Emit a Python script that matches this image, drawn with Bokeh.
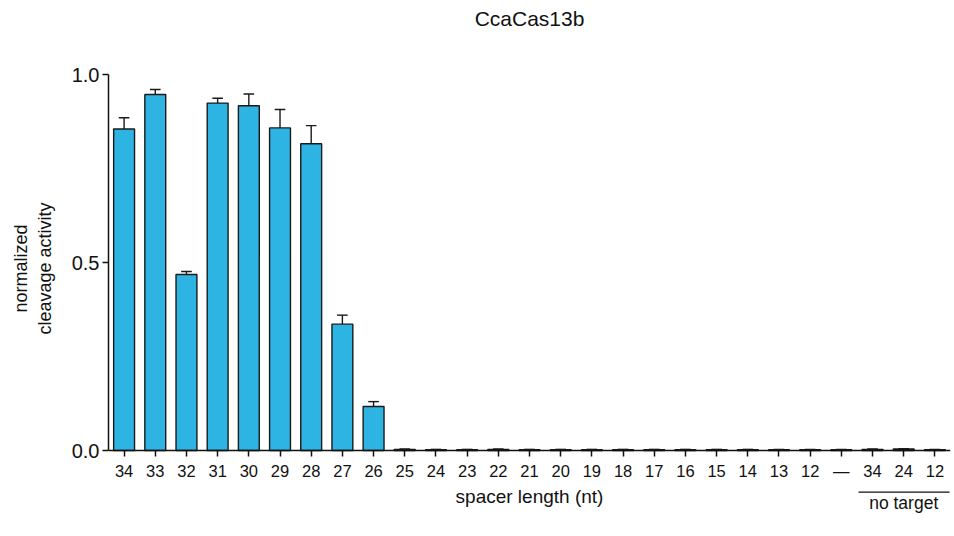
from bokeh.plotting import figure
from bokeh.models import Range1d, FixedTicker, ColumnDataSource
from bokeh.core.properties import value
from bokeh.embed import file_html
from bokeh.resources import INLINE

# spacer lengths tested (last three are non-targeting controls)
labels = ["34", "33", "32", "31", "30", "29", "28", "27", "26", "25", "24", "23",
          "22", "21", "20", "19", "18", "17", "16", "15", "14", "13", "12", "\u2014",
          "34", "24", "12"]
activity = [0.855, 0.947, 0.468, 0.924, 0.917, 0.858, 0.816, 0.336, 0.117,
            0.003, 0.002, 0.002, 0.003, 0.002, 0.002, 0.002, 0.002, 0.002,
            0.002, 0.002, 0.002, 0.002, 0.002, 0.002, 0.003, 0.004, 0.002]
sem = [0.030, 0.013, 0.008, 0.013, 0.031, 0.049, 0.048, 0.024, 0.013,
       0.001, 0.001, 0.001, 0.001, 0.001, 0.001, 0.001, 0.001, 0.001,
       0.001, 0.001, 0.001, 0.001, 0.001, 0.001, 0.001, 0.001, 0.001]
control_group = ["34", "24", "12"]
y_ticks = [0.0, 0.5, 1.0]

FONT = "Liberation Sans"
INK = "#111111"
BAR_COLOR = "#2eb4e3"

xs = list(range(len(labels)))
tops = [a + e for a, e in zip(activity, sem)]
cap = 0.17
src = ColumnDataSource(dict(x=xs, top=activity, etop=tops,
                            cl=[x - cap for x in xs], cr=[x + cap for x in xs]))

# the frame spans the full canvas height so the title, the x axis (pinned at 0)
# and the control bracket can all be placed in data space
PX_PER_UNIT = 376.0
y_top = 1.0 + 74 / PX_PER_UNIT
y_bottom = -86 / PX_PER_UNIT

p = figure(width=954, height=536, output_backend="svg", toolbar_location=None,
           x_range=Range1d(-0.5, len(labels) - 0.5),
           y_range=Range1d(y_bottom, y_top),
           min_border_left=108, min_border_right=4, min_border_top=0,
           min_border_bottom=0)
p.title = None
p.outline_line_color = None
p.xgrid.visible = False
p.ygrid.visible = False
p.background_fill_color = "white"
p.border_fill_color = "white"

# bars
p.vbar(x="x", top="top", bottom=0, width=0.67, source=src,
       fill_color=BAR_COLOR, line_color="#1a1a1a", line_width=1.4)
# upper error bars
p.segment(x0="x", y0="top", x1="x", y1="etop", source=src,
          line_color="#1a1a1a", line_width=1.4)
p.segment(x0="cl", y0="etop", x1="cr", y1="etop", source=src,
          line_color="#1a1a1a", line_width=1.4)

# x axis, pinned at y = 0
xa = p.xaxis[0]
xa.fixed_location = 0
xa.ticker = FixedTicker(ticks=xs)
xa.major_label_overrides = {i: l for i, l in enumerate(labels)}
xa.minor_tick_line_color = None
xa.major_tick_in = 0
xa.major_tick_out = 6
xa.axis_line_width = 1.5
xa.major_tick_line_width = 1.5
xa.axis_line_color = INK
xa.major_tick_line_color = INK
xa.major_label_text_font = FONT
xa.major_label_text_font_size = "16.5px"
xa.major_label_text_color = INK
xa.major_label_standoff = 5
xa.axis_label = "spacer length (nt)"
xa.axis_label_text_font = FONT
xa.axis_label_text_font_size = "19px"
xa.axis_label_text_font_style = "normal"
xa.axis_label_text_color = INK
xa.axis_label_standoff = 3

# y axis
ya = p.yaxis[0]
ya.bounds = (0, 1)
ya.ticker = FixedTicker(ticks=y_ticks)
ya.major_label_overrides = {t: f"{t:.1f}" for t in y_ticks}
ya.minor_tick_line_color = None
ya.major_tick_in = 0
ya.major_tick_out = 6
ya.axis_line_width = 1.5
ya.major_tick_line_width = 1.5
ya.axis_line_color = INK
ya.major_tick_line_color = INK
ya.major_label_text_font = FONT
ya.major_label_text_font_size = "20px"
ya.major_label_text_color = INK
ya.major_label_standoff = 3
ya.axis_label = "normalized\ncleavage activity"
ya.axis_label_text_font = FONT
ya.axis_label_text_font_size = "18px"
ya.axis_label_text_font_style = "normal"
ya.axis_label_text_color = INK
ya.axis_label_text_align = "center"
ya.axis_label_standoff = 14

# title, centred over the plotting area
x_mid = (len(labels) - 1) / 2
p.text(x=[x_mid], y=[1.0 + 56 / PX_PER_UNIT], text=["CcaCas13b"],
       text_align="center", text_baseline="middle",
       text_font=value(FONT), text_font_size="21px", text_color=INK)

# bracket under the non-targeting controls
first = len(labels) - len(control_group)
last = len(labels) - 1
p.segment(x0=[first - 0.45], x1=[last + 0.47], y0=[-41.7 / PX_PER_UNIT],
          y1=[-41.7 / PX_PER_UNIT], line_color=INK, line_width=1.3)
p.text(x=[(first + last) / 2], y=[-52 / PX_PER_UNIT], text=["no target"],
       text_align="center", text_baseline="middle",
       text_font=value(FONT), text_font_size="17.5px", text_color=INK)

open("out.html", "w").write(file_html(p, INLINE))
